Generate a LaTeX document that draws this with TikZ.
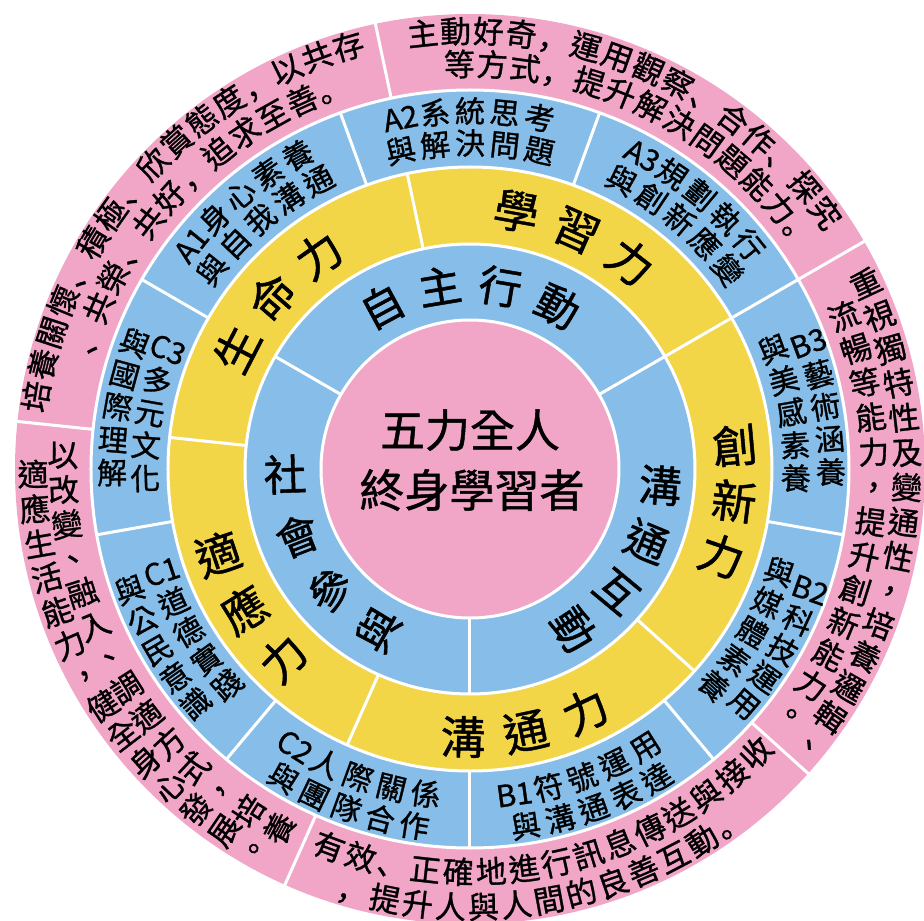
\documentclass[tikz,border=0pt]{standalone}
\usepackage{fontspec}
\setmainfont{Noto Sans CJK TC}[FakeBold=1]
\newfontfamily\scp{Noto Sans CJK SC}[FakeBold=1]
\newcommand\pu[1]{{\scp #1}}
\definecolor{ringpink}{RGB}{241,166,200}
\definecolor{ringblue}{RGB}{134,190,233}
\definecolor{ringyellow}{RGB}{243,213,72}
\tikzset{
  chr/.style={inner sep=0pt, outer sep=0pt, anchor=center},
  pinktxt/.style={chr, font=\fontsize{31pt}{31pt}\selectfont, text height=25.7pt, text depth=2.2pt},
  bluetxt/.style={chr, font=\fontsize{30pt}{30pt}\selectfont, text height=24.9pt, text depth=2.1pt},
  bigtxt/.style={chr, font=\fontsize{43pt}{43pt}\selectfont, text height=35.7pt, text depth=3pt},
  yeltxt/.style={chr, font=\fontsize{45pt}{45pt}\selectfont, text height=37.4pt, text depth=3.2pt},
  centertxt/.style={chr, font=\fontsize{45pt}{45pt}\selectfont, text height=37.4pt, text depth=3.2pt},
  sep/.style={white, line width=3pt}
}
% r, centre angle, pitch, n, direction, rotation offset, style, list
\newcommand\ArcText[8]{%
  \pgfmathsetmacro\dA{#3/#1*57.29578}%
  \foreach \ch [count=\i from 0] in {#8}{%
    \pgfmathsetmacro\ang{#2+(#5)*((#4-1)/2-\i)*\dA}%
    \pgfmathsetmacro\rot{\ang+(#6)}%
    \node[#7, rotate=\rot] at (\ang:#1pt) {\ch};
  }%
}
\begin{document}
\begin{tikzpicture}
\useasboundingbox (-470pt,-452pt) rectangle (454pt,469pt);
\clip (-470pt,-452pt) rectangle (454pt,469pt);
% rings
\fill[ringpink] (0,0) circle (455pt);
\fill[ringblue] (0,0) circle (379pt);
\fill[ringyellow] (0,0) circle (302pt);
\fill[ringblue] (0,0) circle (225pt);
\fill[ringpink] (0,0) circle (149pt);
\foreach \r in {149,225,302,379} \draw[sep] (0,0) circle (\r pt);
% dividers
\foreach \a in {30,102,174,246,318} \draw[sep] (\a:379pt) -- (\a:470pt);
\foreach \a in {30,70,...,350} \draw[sep] (\a:302pt) -- (\a:379pt);
\foreach \a in {30,102,174,246,318} \draw[sep] (\a:225pt) -- (\a:302pt);
\foreach \a in {30,150,270} \draw[sep] (\a:149pt) -- (\a:225pt);
% centre
\node[centertxt] (c1) at (0pt,39pt) {五力全人};
\node[centertxt] (c2) at (2pt,-21pt) {終身學習者};
% inner ring
\ArcText{185}{90}{61}{4}{1}{-90}{bigtxt}{自,主,行,動}
\ArcText{185}{211}{63}{4}{-1}{-180}{bigtxt}{社,會,參,與}
\ArcText{191}{-31}{58}{4}{1}{0}{bigtxt}{溝,通,互,動}
% yellow ring
\ArcText{262}{66}{63}{3}{1}{-90}{yeltxt}{學,習,力}
\ArcText{262}{139}{63}{3}{1}{-90}{yeltxt}{生,命,力}
\ArcText{266}{212}{62}{3}{-1}{-180}{yeltxt}{適,應,力}
\ArcText{268}{282}{63}{3}{-1}{90}{yeltxt}{溝,通,力}
\ArcText{266}{-7}{56}{3}{1}{0}{yeltxt}{創,新,力}
% blue outer ring
\ArcText{358}{130}{35}{5}{1}{-90}{bluetxt}{A1,身,心,素,養}
\ArcText{326}{130}{35}{5}{1}{-90}{bluetxt}{與,自,我,溝,通}
\ArcText{358}{90}{35}{5}{1}{-90}{bluetxt}{A2,系,統,思,考}
\ArcText{326}{90}{35}{5}{1}{-90}{bluetxt}{與,解,決,問,題}
\ArcText{358}{50}{35}{5}{1}{-90}{bluetxt}{A3,規,劃,執,行}
\ArcText{326}{50}{35}{5}{1}{-90}{bluetxt}{與,創,新,應,變}
\ArcText{361}{10}{33}{5}{1}{0}{bluetxt}{B3,藝,術,涵,養}
\ArcText{326}{10}{33}{5}{1}{0}{bluetxt}{與,美,感,素,養}
\ArcText{361}{-30}{33}{5}{1}{0}{bluetxt}{B2,科,技,運,用}
\ArcText{326}{-30}{33}{5}{1}{0}{bluetxt}{與,媒,體,素,養}
\ArcText{328}{-70}{35}{5}{-1}{90}{bluetxt}{B1,符,號,運,用}
\ArcText{361}{-70}{35}{5}{-1}{90}{bluetxt}{與,溝,通,表,達}
\ArcText{328}{250}{35}{5}{-1}{90}{bluetxt}{C2,人,際,關,係}
\ArcText{361}{250}{35}{5}{-1}{90}{bluetxt}{與,團,隊,合,作}
\ArcText{325}{210}{33}{5}{-1}{-180}{bluetxt}{C1,道,德,實,踐}
\ArcText{361}{210}{33}{5}{-1}{-180}{bluetxt}{與,公,民,意,識}
\ArcText{325}{170}{33}{5}{-1}{-180}{bluetxt}{C3,多,元,文,化}
\ArcText{358}{170}{33}{5}{-1}{-180}{bluetxt}{與,國,際,理,解}
% pink outer ring
\ArcText{440}{138.3}{33}{16}{1}{-90}{pinktxt}{培,養,關,懷,\pu{、},積,極,\pu{、},欣,賞,態,度,\pu{，},以,共,存}
\ArcText{405}{135.5}{33}{12}{1}{-90}{pinktxt}{\pu{、},共,榮,\pu{、},共,好,\pu{，},追,求,至,善,\pu{。}}
\ArcText{438}{66}{33}{15}{1}{-90}{pinktxt}{主,動,好,奇,\pu{，},運,用,觀,察,\pu{、},合,作,\pu{、},探,究}
\ArcText{405}{63.5}{33}{13}{1}{-90}{pinktxt}{等,方,式,\pu{，},提,升,解,決,問,題,能,力,\pu{。}}
\ArcText{437}{-7}{35}{15}{1}{0}{pinktxt}{重,視,獨,特,性,及,變,通,性,，,培,養,邏,輯,、}
\ArcText{404}{-7.5}{35}{13}{1}{0}{pinktxt}{流,暢,等,能,力,，,提,升,創,新,能,力,。}
\ArcText{403}{282.4}{33}{15}{-1}{90}{pinktxt}{有,效,\pu{、},正,確,地,進,行,訊,息,傳,送,與,接,收}
\ArcText{438}{280.4}{33}{13}{-1}{90}{pinktxt}{\pu{，},提,升,人,與,人,間,的,良,善,互,動,\pu{。}}
\ArcText{407}{210}{35}{14}{-1}{-180}{pinktxt}{以,改,變,、,融,入,、,調,適,方,式,，,培,養}
\ArcText{437}{210.5}{35}{14}{-1}{-180}{pinktxt}{適,應,生,活,能,力,，,健,全,身,心,發,展,。}
\end{tikzpicture}
\end{document}
